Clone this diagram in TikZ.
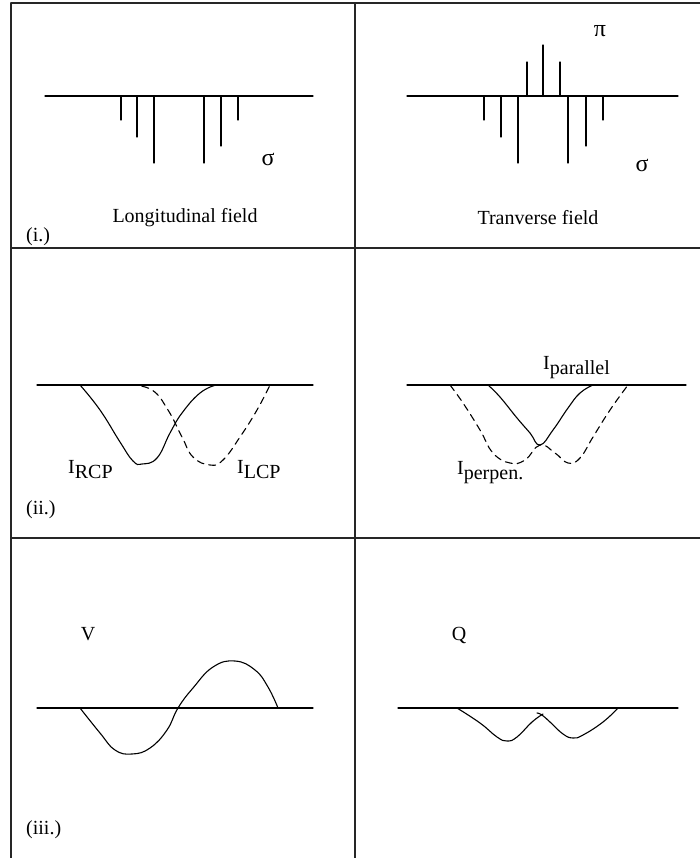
\documentclass[tikz,border=0pt]{standalone}
\usepackage{fontspec}
\setmainfont{Liberation Serif}
\usepackage{tikz}
\newcommand{\Isub}[1]{I\raisebox{-5pt}{#1}}

\begin{document}
\begin{tikzpicture}[x=1pt, y=-1pt, line cap=round,
  lbl/.style={font=\fontsize{20}{24}\selectfont, inner sep=0pt},
  greek/.style={font=\fontsize{24}{28}\selectfont, inner sep=0pt},
  frame/.style={line width=1.4pt, black!85},
  axis/.style={line width=1.1pt},
  curve/.style={line width=1.1pt},
  dashcurve/.style={line width=1.1pt, dash pattern=on 7pt off 5pt}]
\useasboundingbox (0,0) rectangle (700,858);
\draw[frame] (11,3) -- (11,858);
\draw[frame] (355,3) -- (355,858);
\draw[frame] (11,3) -- (700,3);
\draw[frame] (11,248) -- (700,248);
\draw[frame] (11,538) -- (700,538);
\draw[axis] (45,96) -- (313,96);
\foreach \x/\y in {121/120, 137/137, 154/163, 204/163, 221/146, 238/120}{
\draw[axis] (\x,96) -- (\x,\y);
}
\node[greek] (sigmaL) at (268,159) {σ};
\node[lbl] (longf) at (185,218) {Longitudinal field};
\node[lbl, anchor=west] (labi) at (26,237) {(i.)};
\draw[axis] (407,96) -- (678,96);
\foreach \x/\y in {484/120, 501/137, 518/163, 568/163, 586/146, 603/120}{
\draw[axis] (\x,96) -- (\x,\y);
}
\foreach \x/\y in {527/62, 543/45, 560/62}{
\draw[axis] (\x,96) -- (\x,\y);
}
\node[greek] (piR) at (600,31) {π};
\node[greek] (sigmaR) at (642,165) {σ};
\node[lbl] (tranf) at (538,218) {Tranverse field};
\draw[axis] (37,385) -- (313,385);
\draw[curve] plot[smooth, tension=0.75] coordinates {(80,385) (100,410) (120,442) (133,461) (142,464) (157,458) (170,433) (182,413) (200,393) (216,385)};
\draw[dashcurve] plot[smooth, tension=0.75] coordinates {(130,385) (152,390) (168,410) (182,437) (193,457) (210,465) (223,460) (240,437) (257,410) (270,385)};
\node[lbl, anchor=west] (ircp) at (68,470) {\Isub{RCP}};
\node[lbl, anchor=west] (ilcp) at (237,470) {\Isub{LCP}};
\node[lbl, anchor=west] (labii) at (26,510) {(ii.)};
\draw[axis] (407,385) -- (686,385);
\draw[curve] plot[smooth, tension=0.75] coordinates {(488,385) (500,397) (517,418) (530,433) (540,445) (553,430) (568,408) (580,393) (593,385)};
\draw[dashcurve] plot[smooth, tension=0.75] coordinates {(450,385) (463,403) (480,430) (493,453) (510,463) (525,460) (540,445) (555,453) (568,463) (580,458) (593,437) (610,410) (628,385)};
\node[lbl, anchor=west] (ipar) at (543,368) {\Isub{parallel}};
\node[lbl, anchor=west] (iperp) at (457,473) {\Isub{perpen.}};
\draw[axis] (37,708) -- (313,708);
\draw[curve] plot[smooth, tension=0.75] coordinates {(80,708) (100,733) (115,750) (132,754) (150,748) (167,730) (178,708) (193,688) (213,667) (235,661) (255,670) (268,687) (278,708)};
\node[lbl] (vlbl) at (88,634) {V};
\node[lbl, anchor=west] (labiii) at (26,830) {(iii.)};
\draw[axis] (398,708) -- (678,708);
\draw[curve] plot[smooth, tension=0.75] coordinates {(457,708) (480,723) (497,737) (507,741) (517,737) (532,722) (543,714)};
\draw[curve] plot[smooth, tension=0.75] coordinates {(537,713) (542,715) (550,722) (563,734) (573,738) (583,735) (603,722) (618,708)};
\node[lbl] (qlbl) at (459,635) {Q};
\end{tikzpicture}
\end{document}
